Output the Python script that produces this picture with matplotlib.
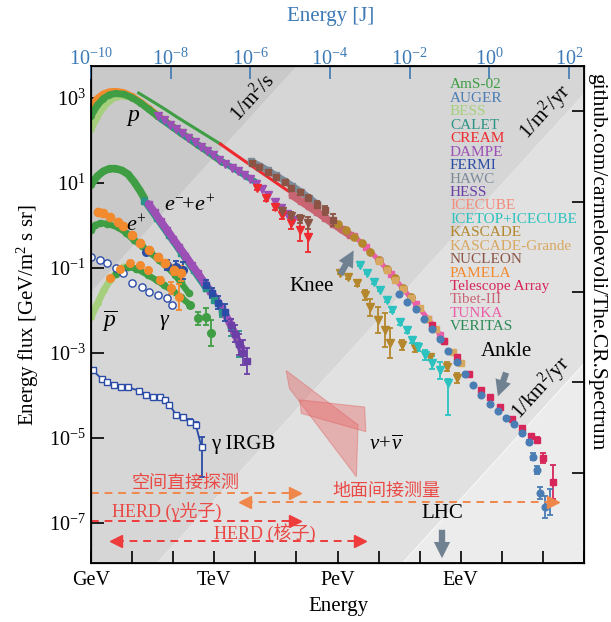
import numpy as np
import matplotlib
matplotlib.use("Agg")
import matplotlib.pyplot as plt
from matplotlib.patches import Polygon, FancyArrowPatch

plt.rcParams['font.family'] = ['Liberation Serif', 'Noto Sans CJK SC']
plt.rcParams['mathtext.fontset'] = 'custom'
plt.rcParams['mathtext.rm'] = 'Liberation Serif'
plt.rcParams['mathtext.it'] = 'Liberation Serif:italic'
plt.rcParams['mathtext.bf'] = 'Liberation Serif:bold'

# ---------------------------------------------------------------------------
# DATA  (log10 E [GeV], log10 E^2 J [GeV m^-2 s^-1 sr^-1])
# ---------------------------------------------------------------------------
# protons
p_bess_logE = [0.0, 0.15, 0.3, 0.45, 0.6, 0.8, 1.0, 1.2, 1.4, 1.6, 1.8, 2.0]
p_bess_logF = [2.26, 2.55, 2.78, 2.93, 3.02, 3.05, 3.00, 2.89, 2.74, 2.59, 2.45, 2.31]
p_pamela_logE = [0.0, 0.15, 0.3, 0.45, 0.6, 0.8, 1.0, 1.2, 1.4, 1.6, 1.8, 2.0, 2.2, 2.4, 2.6]
p_pamela_logF = [2.80, 2.98, 3.09, 3.14, 3.15, 3.12, 3.03, 2.90, 2.75, 2.60, 2.45, 2.31, 2.17, 2.03, 1.89]
p_ams_logE = [0.0, 0.15, 0.3, 0.45, 0.6, 0.8, 1.0, 1.2, 1.4, 1.6, 1.8, 2.0, 2.2, 2.4, 2.6, 2.8, 3.0, 3.2]
p_ams_logF = [2.57, 2.82, 2.98, 3.07, 3.10, 3.08, 3.00, 2.88, 2.73, 2.58, 2.44, 2.30, 2.16, 2.03, 1.89, 1.76, 1.62, 1.48]
p_calet_logE = [1.7, 2.0, 2.3, 2.6, 2.9, 3.2, 3.5, 3.8, 4.0]
p_calet_logF = [2.50, 2.30, 2.09, 1.89, 1.70, 1.49, 1.32, 1.14, 1.02]
p_dampe_logE = [1.62, 1.77, 1.92, 2.07, 2.22, 2.37, 2.52, 2.67, 2.82, 2.97, 3.12, 3.27,
                3.42, 3.57, 3.72, 3.87, 4.02, 4.17, 4.32, 4.47, 4.62, 4.77, 4.92]
p_dampe_logF = [2.57, 2.47, 2.36, 2.26, 2.16, 2.05, 1.95, 1.85, 1.74, 1.64, 1.53, 1.44,
                1.35, 1.27, 1.18, 1.08, 0.97, 0.84, 0.70, 0.55, 0.41, 0.27, 0.13]
p_cream_logE = [4.05, 4.27, 4.47, 4.66, 4.88, 5.08, 5.27]
p_cream_logF = [0.88, 0.64, 0.43, 0.24, 0.05, -0.12, -0.27]
p_cream_err = [0.05, 0.06, 0.08, 0.10, 0.15, 0.25, 0.35]
p_nucleon_logE = [4.66, 4.88, 5.08, 5.27]
p_nucleon_logF = [0.33, 0.22, 0.15, 0.05]
p_nucleon_err = [0.05, 0.08, 0.10, 0.15]

# all particle
all_ams_logE = [1.16, 1.5, 1.8, 2.1, 2.4, 2.7, 3.0, 3.15]
all_ams_logF = [3.11, 2.91, 2.73, 2.54, 2.36, 2.18, 2.00, 1.91]
all_cream_logE = [3.15, 3.5, 3.8, 4.1, 4.4, 4.7, 4.84]
all_cream_logF = [1.91, 1.67, 1.47, 1.27, 1.07, 0.87, 0.78]
all_hawc_logE = [3.9, 4.1, 4.3, 4.5, 4.7, 4.9, 5.1, 5.3, 5.5]
all_hawc_logF = [1.50, 1.40, 1.29, 1.17, 1.05, 0.92, 0.79, 0.65, 0.50]
all_nucleon_logE = [3.91, 4.10, 4.30, 4.51, 4.71, 4.88, 5.08, 5.27, 5.49, 5.69, 5.88]
all_nucleon_logF = [1.46, 1.37, 1.25, 1.13, 1.02, 0.88, 0.78, 0.64, 0.48, 0.35, 0.12]
all_nucleon_err = [0.03, 0.03, 0.03, 0.04, 0.04, 0.05, 0.05, 0.06, 0.08, 0.10, 0.15]
all_tibet_logE = [4.9, 5.1, 5.3, 5.5, 5.7, 5.9, 6.1, 6.3]
all_tibet_logF = [0.70, 0.57, 0.44, 0.31, 0.17, 0.03, -0.10, -0.23]
all_kascade_logE = [6.0, 6.2, 6.4, 6.6, 6.8, 7.0, 7.2, 7.4, 7.6, 7.8]
all_kascade_logF = [0.02, -0.12, -0.27, -0.43, -0.62, -0.82, -1.03, -1.25, -1.47, -1.68]
all_grande_logE = [7.0, 7.2, 7.4, 7.6, 7.8, 8.0, 8.2, 8.4, 8.6, 8.8, 9.0]
all_grande_logF = [-0.85, -1.06, -1.28, -1.50, -1.72, -1.95, -2.20, -2.45, -2.72, -2.98, -3.25]
all_tunka_logE = [6.4, 6.7, 7.0, 7.3, 7.6, 7.9, 8.2, 8.5]
all_tunka_logF = [-0.25, -0.52, -0.82, -1.15, -1.50, -1.85, -2.20, -2.58]
all_auger_logE = [7.5, 7.7, 7.9, 8.1, 8.3, 8.5, 8.7, 8.9, 9.1, 9.3, 9.5, 9.7, 9.9, 10.1,
                  10.3, 10.5, 10.65, 10.75, 10.85, 10.93, 11.05, 11.17]
all_auger_logF = [-1.62, -1.80, -1.98, -2.20, -2.44, -2.69, -2.95, -3.22, -3.50, -3.77,
                  -4.00, -4.20, -4.37, -4.53, -4.69, -4.88, -5.10, -5.45, -5.76, -6.30,
                  -6.63, -6.51]
all_auger_err = [0, 0, 0, 0, 0, 0, 0, 0, 0, 0, 0, 0, 0, 0, 0, 0.02, 0.05, 0.08, 0.10,
                 0.15, 0.25, 0.30]
all_ta_logE = [8.3, 8.6, 8.9, 9.2, 9.5, 9.7, 9.95, 10.25, 10.5, 10.7, 10.85, 11.0, 11.24]
all_ta_logF = [-2.35, -2.72, -3.10, -3.50, -3.88, -4.04, -4.28, -4.55, -4.78, -4.95,
               -5.05, -5.48, -6.04]
all_ta_err = [0, 0, 0, 0, 0, 0, 0, 0.02, 0.03, 0.04, 0.06, 0.12, 0.40]

# light component
light_kascade_logE = [6.05, 6.25, 6.47, 6.66, 6.79, 6.98, 7.15, 7.27, 7.56, 7.88, 8.24, 8.66, 8.90]
light_kascade_logF = [-1.12, -1.22, -1.36, -1.64, -1.93, -2.23, -2.47, -2.77, -2.82, -2.89,
                      -3.10, -3.33, -3.59]
light_kascade_err = [0.04, 0.05, 0.06, 0.12, 0.20, 0.30, 0.40, 0.35, 0.12, 0.10, 0.08, 0.10, 0.12]
light_icetop_logE = [6.54, 6.73, 6.90, 7.03, 7.20, 7.32, 7.51, 7.68, 7.81, 7.95, 8.12, 8.29,
                     8.49, 8.68]
light_icetop_logF = [-0.94, -1.13, -1.34, -1.52, -1.76, -2.00, -2.28, -2.47, -2.70, -2.87,
                     -3.05, -3.24, -3.41, -3.71]
light_icetop_err = [0.03, 0.03, 0.04, 0.04, 0.05, 0.05, 0.06, 0.07, 0.08, 0.10, 0.12, 0.15,
                    0.20, 0.60]

# electrons + positrons
ee_ams_logE = [0.0, 0.15, 0.3, 0.45, 0.6, 0.75, 0.9, 1.05, 1.2, 1.3]
ee_ams_logF = [0.95, 1.15, 1.27, 1.33, 1.33, 1.29, 1.20, 1.02, 0.80, 0.63]
ee_calet_logE = [1.3, 1.6, 1.9, 2.2, 2.5, 2.8, 3.0, 3.2, 3.4, 3.6]
ee_calet_logF = [0.58, 0.17, -0.24, -0.65, -1.06, -1.48, -1.76, -2.05, -2.40, -2.80]
ee_calet_err = [0, 0, 0, 0, 0, 0.03, 0.08, 0.12, 0.20, 0.30]
ee_dampe_logE = [1.4, 1.55, 1.7, 1.85, 2.0, 2.15, 2.3, 2.45, 2.6, 2.75, 2.9, 3.05, 3.2,
                 3.35, 3.5, 3.65]
ee_dampe_logF = [0.50, 0.30, 0.09, -0.11, -0.32, -0.52, -0.72, -0.93, -1.13, -1.34, -1.54,
                 -1.75, -1.98, -2.25, -2.55, -2.90]
ee_hess_logE = [3.4, 3.5, 3.6, 3.7, 3.8]
ee_hess_logF = [-2.35, -2.55, -2.80, -3.00, -3.20]
ee_hess_err = [0.15, 0.20, 0.25, 0.30, 0.30]
ee_fermi_logE = [2.8, 2.95, 3.1, 3.25]
ee_fermi_logF = [-1.40, -1.60, -1.82, -2.05]
ee_fermi_err = [0.10, 0.12, 0.15, 0.20]

# positrons
pos_pamela_logE = [0.16, 0.3, 0.47, 0.65, 0.79, 1.0, 1.2, 1.4, 1.62, 1.8, 2.01, 2.18]
pos_pamela_logF = [0.30, 0.28, 0.20, 0.08, -0.02, -0.22, -0.42, -0.58, -0.75, -0.90, -1.06, -1.13]
pos_pamela_err = [0, 0, 0, 0, 0, 0, 0, 0.03, 0.05, 0.08, 0.12, 0.18]
pos_ams_logE = [0.0, 0.1, 0.23, 0.4, 0.65, 0.85, 1.04, 1.25, 1.45, 1.65, 1.86, 2.05, 2.18, 2.38]
pos_ams_logF = [-0.12, 0.0, 0.05, 0.03, -0.05, -0.18, -0.35, -0.50, -0.65, -0.82, -0.99,
                -1.18, -1.34, -1.60]
pos_fermi_logE = [1.33, 1.62, 1.86, 2.06, 2.25]
pos_fermi_logF = [-0.63, -0.75, -0.94, -0.99, -1.06]
pos_fermi_err = [0.05, 0.08, 0.12, 0.15, 0.20]

# antiprotons
pbar_bess_logE = [0.0, 0.16, 0.31, 0.47, 0.64, 0.8]
pbar_bess_logF = [-2.16, -1.84, -1.53, -1.29, -1.10, -0.98]
pbar_pamela_logE = [0.47, 0.7, 0.96, 1.2, 1.38, 1.69, 1.94, 2.13]
pbar_pamela_logF = [-1.25, -1.02, -0.89, -0.93, -1.05, -1.29, -1.48, -1.69]
pbar_pamela_err = [0, 0, 0, 0, 0.03, 0.08, 0.15, 0.30]
pbar_ams_logE = [0.6, 0.89, 1.1, 1.38, 1.6, 1.77, 2.0, 2.18, 2.42, 2.6, 2.79, 2.91]
pbar_ams_logF = [-1.15, -0.98, -1.02, -1.17, -1.30, -1.41, -1.55, -1.69, -1.88, -2.19,
                 -2.16, -2.54]
pbar_ams_err = [0, 0, 0, 0, 0, 0, 0, 0.03, 0.06, 0.15, 0.20, 0.30]

# gamma rays
gam_diffuse_logE = [0.01, 0.21, 0.40, 0.62, 0.77, 1.01, 1.23, 1.42, 1.62, 1.84, 1.98]
gam_diffuse_logF = [-0.75, -0.82, -0.89, -1.01, -1.12, -1.36, -1.45, -1.57, -1.64, -1.71, -1.88]
gam_irgb_logE = [0.04, 0.26, 0.40, 0.57, 0.74, 0.89, 1.18, 1.35, 1.50, 1.67, 1.79, 1.91,
                 2.08, 2.23, 2.40, 2.55, 2.69]
gam_irgb_logF = [-3.41, -3.62, -3.69, -3.76, -3.81, -3.81, -3.90, -4.00, -4.04, -4.04,
                 -4.11, -4.23, -4.47, -4.51, -4.63, -4.70, -5.22]
gam_irgb_err_lo = [0, 0, 0, 0, 0, 0, 0, 0, 0, 0, 0, 0, 0.05, 0.05, 0.06, 0.07, 0.70]
gam_irgb_err_hi = [0, 0, 0, 0, 0, 0, 0, 0, 0, 0, 0, 0, 0.05, 0.05, 0.06, 0.07, 0.23]

# neutrinos (IceCube butterflies)
nu_a_logE = [4.75, 4.83, 6.46, 6.50]
nu_a_logF = [-3.42, -3.84, -5.92, -4.70]
nu_b_logE = [5.08, 6.66, 6.69, 5.12]
nu_b_logF = [-4.11, -4.28, -4.86, -4.43]

# energy ranges of experiments
range_direct_logE = [0.0, 4.96]
range_ground_logE = [3.74, 11.24]
range_herd_gamma_logE = [0.0, 4.96]
range_herd_nuclei_logE = [0.62, 6.54]
range_levels_logF = [-6.30, -6.51, -6.96, -7.43]

# iso integral-flux lines (1/m2/s, 1/m2/yr, 1/km2/yr)
iso_slope = 1.062
iso_offsets = [-1.569, -9.65, -15.99]

legend_names = ['AmS-02', 'AUGER', 'BESS', 'CALET', 'CREAM', 'DAMPE', 'FERMI', 'HAWC', 'HESS',
                'ICECUBE', 'ICETOP+ICECUBE', 'KASCADE', 'KASCADE-Grande', 'NUCLEON', 'PAMELA',
                'Telescope Array', 'Tibet-III', 'TUNKA', 'VERITAS']
legend_colors = ['#3f9e44', '#4a7db4', '#a5cf7c', '#2a9486', '#ee2a2f', '#9c4fb5', '#2b4ca6',
                 '#7c8b9a', '#6b3fa6', '#f48a7a', '#2cc2bf', '#b4872c', '#d8a860', '#8b5444',
                 '#f28a2e', '#d7265a', '#c96473', '#ea5fa8', '#2e8b57']
C = dict(zip(legend_names, legend_colors))

# ---------------------------------------------------------------------------
W, H, DPI = 611, 622, 100
fig = plt.figure(figsize=(W / DPI, H / DPI), dpi=DPI)


def P(x, y):
    return (x / W, 1 - y / H)


L_ax, R_ax, T_ax, B_ax = 91, 584, 66, 563
ax = fig.add_axes([L_ax / W, 1 - B_ax / H, (R_ax - L_ax) / W, (B_ax - T_ax) / H])
ax.set_xscale('log')
ax.set_yscale('log')
ax.set_xlim(1, 1e12)
ax.set_ylim(10 ** -7.95, 10 ** 3.746)


def L(a):
    return 10 ** np.asarray(a, float)


# background bands
xs = np.logspace(-0.5, 12.5, 200)
iso = [10 ** (c + iso_slope * np.log10(xs)) for c in iso_offsets]
ax.fill_between(xs, iso[0], 1e8, color='#c9c9c9', lw=0, zorder=0)
ax.fill_between(xs, iso[1], iso[0], color='#d6d6d6', lw=0, zorder=0)
ax.fill_between(xs, iso[2], iso[1], color='#e1e1e1', lw=0, zorder=0)
ax.fill_between(xs, 1e-12, iso[2], color='#ececec', lw=0, zorder=0)


def band(lx, ly, color, lw=5.0, marker='o', ms=4, z=3):
    ax.plot(L(lx), L(ly), '-', color=color, lw=lw, solid_capstyle='round', zorder=z)
    ax.plot(L(lx), L(ly), marker, color=color, ms=ms, zorder=z, lw=0)


def pts(lx, ly, color, marker='o', ms=5, err=None, z=4, mfc=None, errlo=None, errhi=None):
    x = L(lx)
    y = L(ly)
    if err is not None:
        errlo = err
        errhi = err
    if errlo is not None:
        lo = np.asarray(errlo, float)
        hi = np.asarray(errhi, float)
        yerr = [y - y * 10 ** (-lo), y * 10 ** hi - y]
        ax.errorbar(x, y, yerr=yerr, fmt=marker, color=color, ms=ms, capsize=2.2,
                    elinewidth=1.3, capthick=1.3, mfc=mfc if mfc else color, zorder=z)
    else:
        ax.plot(x, y, marker, color=color, ms=ms, mfc=mfc if mfc else color, lw=0, zorder=z)


# neutrino butterflies
for lx, ly in [(nu_a_logE, nu_a_logF), (nu_b_logE, nu_b_logF)]:
    ax.add_patch(Polygon(np.column_stack([L(lx), L(ly)]), closed=True,
                         facecolor='#e66a6a', edgecolor='#e06060', alpha=0.42, lw=0.8, zorder=2))

# protons
band(p_bess_logE, p_bess_logF, C['BESS'], lw=5)
band(p_pamela_logE, p_pamela_logF, C['PAMELA'], lw=5)
band(p_ams_logE, p_ams_logF, C['AmS-02'], lw=5)
band(p_calet_logE, p_calet_logF, C['CALET'], lw=4.5, marker='s', ms=3.5)
pts(p_dampe_logE, p_dampe_logF, C['DAMPE'], marker='v', ms=5.5)
pts(p_cream_logE, p_cream_logF, C['CREAM'], marker='v', ms=5.5, err=p_cream_err)
pts(p_nucleon_logE, p_nucleon_logF, C['NUCLEON'], marker='v', ms=5.5, err=p_nucleon_err)

# all particle
ax.plot(L(all_ams_logE), L(all_ams_logF), '-', color=C['AmS-02'], lw=2.2, zorder=3)
ax.plot(L(all_cream_logE), L(all_cream_logF), '-', color=C['CREAM'], lw=2.2, zorder=3)
band(all_hawc_logE, all_hawc_logF, C['HAWC'], lw=5, marker='s', ms=4)
pts(all_nucleon_logE, all_nucleon_logF, C['NUCLEON'], marker='s', ms=4.8, err=all_nucleon_err)
band(all_tibet_logE, all_tibet_logF, C['Tibet-III'], lw=5.5, marker='s', ms=4)
band(all_tunka_logE, all_tunka_logF, C['TUNKA'], lw=3.5, marker='s', ms=4)
pts(all_kascade_logE, all_kascade_logF, C['KASCADE'], marker='o', ms=5.2)
pts(all_grande_logE, all_grande_logF, C['KASCADE-Grande'], marker='s', ms=4.5)
pts(all_ta_logE, all_ta_logF, C['Telescope Array'], marker='s', ms=4.6, err=all_ta_err)
pts(all_auger_logE, all_auger_logF, C['AUGER'], marker='o', ms=4.8, err=all_auger_err)

# light component
pts(light_kascade_logE, light_kascade_logF, C['KASCADE'], marker='v', ms=5.5,
    err=light_kascade_err)
pts(light_icetop_logE, light_icetop_logF, C['ICETOP+ICECUBE'], marker='v', ms=5.5,
    errlo=[*light_icetop_err[:-1], 0.76], errhi=[*light_icetop_err[:-1], 0.1])

# electrons + positrons
band(ee_ams_logE, ee_ams_logF, C['AmS-02'], lw=5.5)
band(ee_calet_logE[:6], ee_calet_logF[:6], C['CALET'], lw=5, marker='s', ms=4)
pts(ee_calet_logE[5:], ee_calet_logF[5:], C['CALET'], marker='s', ms=5, err=ee_calet_err[5:])
band(ee_dampe_logE, ee_dampe_logF, C['DAMPE'], lw=5.5, marker='s', ms=4, z=4)
pts(ee_fermi_logE, ee_fermi_logF, C['FERMI'], marker='s', ms=5, err=ee_fermi_err)
pts(ee_hess_logE, ee_hess_logF, C['HESS'], marker='s', ms=5, err=ee_hess_err, z=5)

# positrons
pts(pos_fermi_logE, pos_fermi_logF, C['FERMI'], marker='o', ms=5.5, err=pos_fermi_err)
band(pos_ams_logE, pos_ams_logF, C['AmS-02'], lw=4.5, ms=4.5)
pts(pos_pamela_logE, pos_pamela_logF, C['PAMELA'], marker='o', ms=6, err=pos_pamela_err)

# antiprotons
band(pbar_bess_logE, pbar_bess_logF, C['BESS'], lw=5)
band(pbar_ams_logE[:9], pbar_ams_logF[:9], C['AmS-02'], lw=4.5, ms=4.5)
pts(pbar_ams_logE[8:], pbar_ams_logF[8:], C['AmS-02'], marker='o', ms=5.5, err=pbar_ams_err[8:])
pts(pbar_pamela_logE, pbar_pamela_logF, C['PAMELA'], marker='o', ms=5.5, err=pbar_pamela_err)

# gamma rays
pts(gam_diffuse_logE, gam_diffuse_logF, C['FERMI'], marker='o', ms=5.2, mfc='white')
ax.plot(L(gam_irgb_logE), L(gam_irgb_logF), '-', color=C['FERMI'], lw=1.3, zorder=4)
pts(gam_irgb_logE, gam_irgb_logF, C['FERMI'], marker='s', ms=5, mfc='white',
    errlo=gam_irgb_err_lo, errhi=gam_irgb_err_hi, z=5)

# experiment energy ranges
orange_r, red_r = '#f0874a', '#ee3b3b'
rng_specs = [(range_direct_logE, range_levels_logF[0], orange_r, False),
             (range_ground_logE, range_levels_logF[1], orange_r, True),
             (range_herd_gamma_logE, range_levels_logF[2], red_r, False),
             (range_herd_nuclei_logE, range_levels_logF[3], red_r, True)]
for lx, lf, col, both in rng_specs:
    ex = L(lx)
    fy = 10 ** lf
    ax.plot(ex, [fy, fy], ls=(0, (4, 3)), color=col, lw=1.4, zorder=6)
    ax.plot(ex[1], fy, '>', color=col, ms=8, zorder=6)
    if both:
        ax.plot(ex[0], fy, '<', color=col, ms=8, zorder=6)

# ---------------------------------------------------------------------------
# axes styling
for sp in ax.spines.values():
    sp.set_linewidth(1.3)
ax.set_xticks([10.0 ** i for i in range(13)])
ax.set_xticklabels(['GeV', '', '', 'TeV', '', '', 'PeV', '', '', 'EeV', '', '', ''])
ax.xaxis.set_minor_locator(matplotlib.ticker.NullLocator())
ax.set_yticks([10.0 ** i for i in [3, 1, -1, -3, -5, -7]])
ax.set_yticklabels([r'$10^{%d}$' % i for i in [3, 1, -1, -3, -5, -7]])
ax.yaxis.set_minor_locator(matplotlib.ticker.NullLocator())
ax.tick_params(axis='x', direction='in', length=9, width=1.2, labelsize=14.5, pad=6, top=False)
ax.tick_params(axis='y', direction='in', length=9, width=1.2, labelsize=14.5, pad=4, right=False)

blue = '#3d7ab5'
ax2 = ax.twiny()
ax2.set_xscale('log')
ax2.set_xlim(1e-10, 10 ** 2.38)
ax2.set_xticks([10.0 ** i for i in range(-10, 3, 2)])
ax2.set_xticklabels([r'$10^{%d}$' % i for i in range(-10, 3, 2)])
ax2.xaxis.set_minor_locator(matplotlib.ticker.NullLocator())
ax2.tick_params(axis='x', direction='in', length=9, width=1.2, colors=blue, labelsize=14.5, pad=-3)
ax2.spines['top'].set_color('black')

ax3 = ax.twinx()
ax3.set_yscale('log')
ax3.set_ylim(1e-8, 1e3)
ax3.set_yticks([10.0 ** i for i in range(-8, 3, 2)])
ax3.yaxis.set_minor_locator(matplotlib.ticker.NullLocator())
ax3.set_yticklabels([])
ax3.tick_params(axis='y', direction='in', length=9, width=1.2)

# axis labels
fig.text(*P(338, 607), 'Energy', ha='center', va='center', fontsize=15)
fig.text(*P(331, 16), 'Energy [J]', ha='center', va='center', fontsize=15, color=blue)
fig.text(*P(28, 315), r'Energy flux [GeV/m$^2$ s sr]', ha='center', va='center',
         fontsize=15, rotation=90)
fig.text(*P(597, 262), 'github.com/carmeloevoli/The.CR.Spectrum', ha='center', va='center',
         fontsize=15.5, rotation=-90)

# legend-like list
for i, (n, c) in enumerate(zip(legend_names, legend_colors)):
    fig.text(*P(450, 85 + i * 13.43), n, ha='left', va='center', fontsize=11, color=c)

# iso-flux labels
ang = np.degrees(np.arctan(iso_slope * ((B_ax - T_ax) / 11.696) / ((R_ax - L_ax) / 12.0)))
fig.text(*P(253, 98), r'1/m$^2$/s', rotation=ang, ha='center', va='center', fontsize=15)
fig.text(*P(545, 112), r'1/m$^2$/yr', rotation=ang, ha='center', va='center', fontsize=15)
fig.text(*P(541, 388), r'1/km$^2$/yr', rotation=ang, ha='center', va='center', fontsize=15)

# species labels
fig.text(*P(133, 117), r'$p$', ha='center', va='center', fontsize=17)
fig.text(*P(190, 206), r'$e^{-}\!\!+\!e^{+}$', ha='center', va='center', fontsize=16)
fig.text(*P(136, 226), r'$e^{+}$', ha='center', va='center', fontsize=16)
fig.text(*P(110, 321), r'$\overline{p}$', ha='center', va='center', fontsize=17)
fig.text(*P(164, 320), 'γ', ha='center', va='center', fontsize=16, style='italic')
fig.text(*P(211, 445), 'γ IRGB', ha='left', va='center', fontsize=15)
fig.text(*P(386, 445), r'$\nu\!+\!\overline{\nu}$', ha='center', va='center', fontsize=15)
fig.text(*P(312, 287), 'Knee', ha='center', va='center', fontsize=15)
fig.text(*P(506, 351), 'Ankle', ha='center', va='center', fontsize=15)
fig.text(*P(442, 513), 'LHC', ha='center', va='center', fontsize=15)

# Chinese range labels
cn_red = '#ea4a45'
fig.text(*P(186, 483), '空间直接探测', ha='center', va='center', fontsize=13, color=cn_red)
fig.text(*P(386, 491), '地面间接测量', ha='center', va='center', fontsize=13, color=cn_red)
fig.text(*P(167, 511), 'HERD (γ光子)', ha='center', va='center', fontsize=13, color=cn_red)
fig.text(*P(265, 533), 'HERD (核子)', ha='center', va='center', fontsize=13, color=cn_red)

# gray arrows
arrow_gray = '#708292'
for (x0, y0), (x1, y1) in [((339, 277), (355, 248)), ((507, 370), (497, 399)),
                           ((442, 527), (442, 561))]:
    fig.patches.append(FancyArrowPatch(P(x0, y0), P(x1, y1), transform=fig.transFigure,
                                       arrowstyle='simple,head_length=0.9,head_width=0.9,tail_width=0.35',
                                       mutation_scale=13, color=arrow_gray, lw=0, zorder=10))

fig.savefig('out.png', dpi=DPI)
